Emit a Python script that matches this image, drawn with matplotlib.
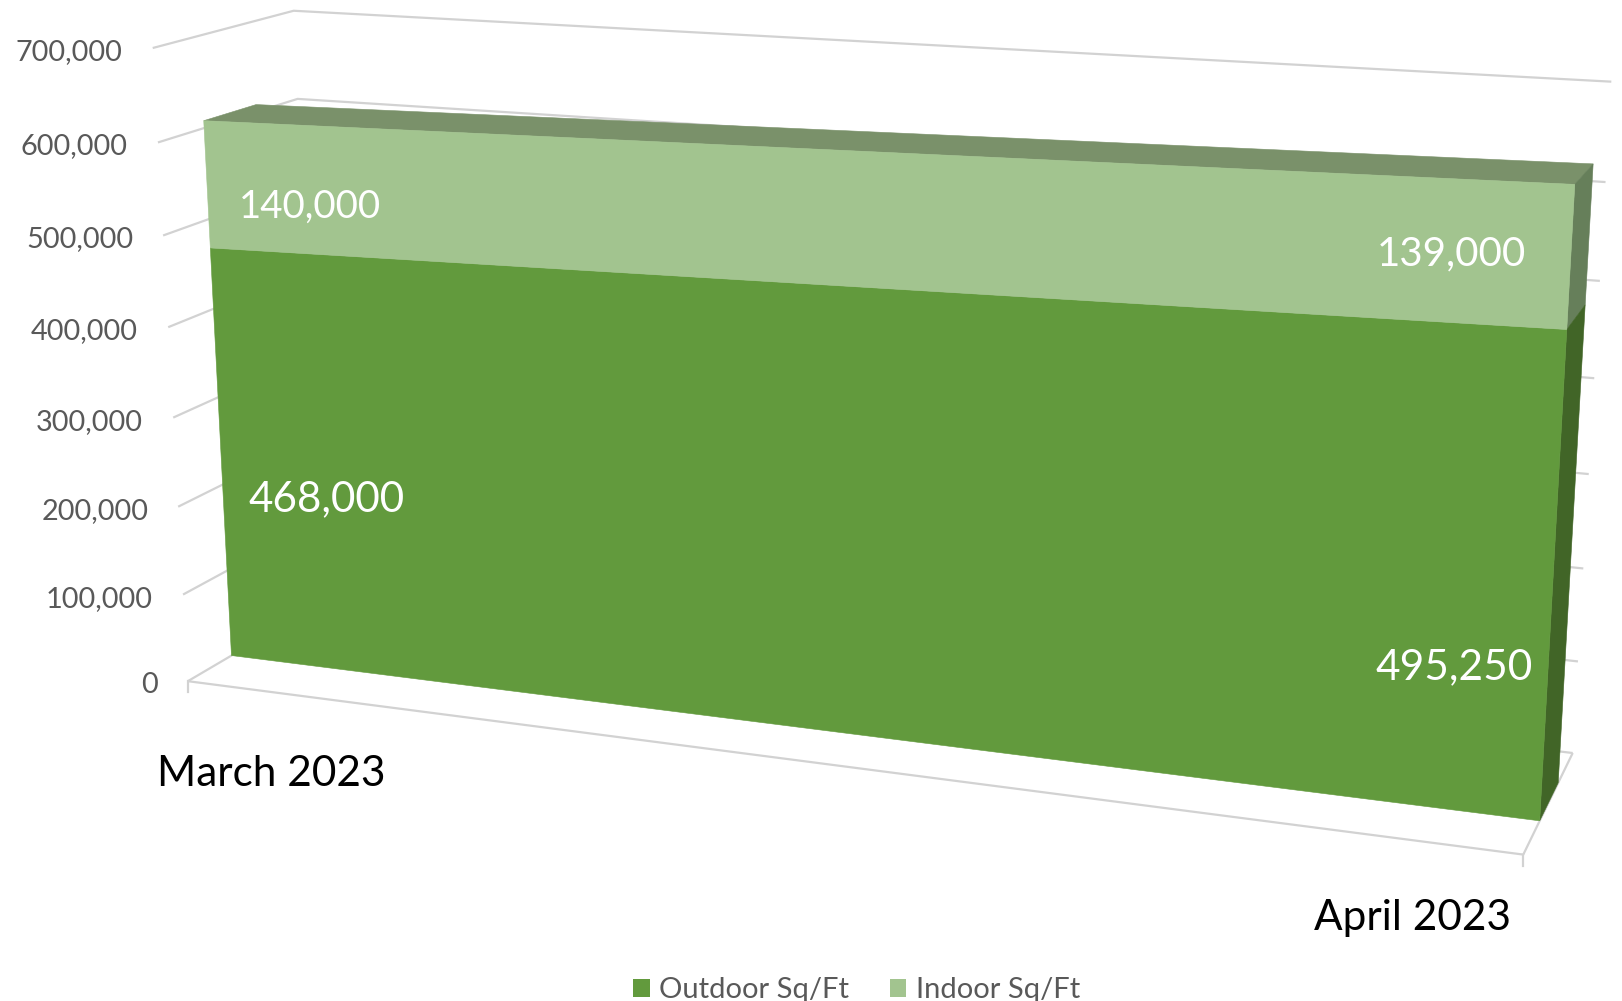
import numpy as np
import matplotlib
matplotlib.use("Agg")
import matplotlib.pyplot as plt
from matplotlib.patches import Polygon, Patch

categories = ["March 2023", "April 2023"]
outdoor = [468000, 495250]
indoor = [140000, 139000]
value_ticks = [0, 100000, 200000, 300000, 400000, 500000, 600000, 700000]
series_names = ["Outdoor Sq/Ft", "Indoor Sq/Ft"]

VMAX = 700000.0
FONT = "Lato"
C_OUT, C_IN, C_TOP, C_SIDE_IN, C_SIDE_OUT = "#629A3D", "#A2C48F", "#7A916A", "#667F5A", "#416527"
C_GRID, C_TICK, C_CAT = "#D2D2D2", "#595959", "#000000"
AREA_D0, AREA_D1 = 0.315, 0.69

# Camera calibration of the 3-D plot box: (category 0-1, value 0-1, depth 0-1) -> pixel
calib = [
    (0, 0, 0, 189, 681), (0, 1, 0, 153, 48), (0, 1, 1, 294, 11), (1, 1, 1, 1612, 82),
    (1, 0, 1, 1573, 753), (1, 0, 0, 1523, 855), (0, 6/7, 0, 158, 142), (0, 6/7, 1, 297, 99),
    (1, 6/7, 1, 1605, 182), (0, 4/7, 0, 168, 327), (1, 4/7, 1, 1594, 378),
    (0, 1/7, 0, 182, 595), (1, 1/7, 1, 1578, 661),
]
A, b = [], []
for u, v, d, x, y in calib:
    A.append([u, v, d, 1, 0, 0, 0, 0, -x*u, -x*v, -x*d]); b.append(x)
    A.append([0, 0, 0, 0, u, v, d, 1, -y*u, -y*v, -y*d]); b.append(y)
P = np.linalg.lstsq(np.array(A, float), np.array(b, float), rcond=None)[0]

def proj(u, value, d):
    v = value / VMAX
    w = P[8]*u + P[9]*v + P[10]*d + 1
    return ((P[0]*u + P[1]*v + P[2]*d + P[3]) / w, (P[4]*u + P[5]*v + P[6]*d + P[7]) / w)

plt.rcParams["font.family"] = [FONT, "DejaVu Sans"]
fig = plt.figure(figsize=(16.22, 10.01), dpi=100)
ax = fig.add_axes([0, 0, 1, 1])
ax.set_xlim(0, 1622); ax.set_ylim(1001, 0); ax.axis("off")

def line(pts, z=1):
    xs, ys = zip(*pts)
    ax.plot(xs, ys, color=C_GRID, lw=1.6, solid_capstyle="butt", zorder=z)

for t in value_ticks:
    line([proj(0, t, 0), proj(0, t, 1), proj(1, t, 1)])
    x, y = proj(0, t, 0)
    ax.annotate(f"{t:,}", (x, y), xytext=(-30, -4), textcoords="offset pixels",
                ha="right", va="center", fontsize=20.8, color=C_TICK)
line([proj(0, 0, 0), proj(1, 0, 0), proj(1, 0, 1)])
for u in (0, 1):
    x, y = proj(u, 0, 0)
    ax.plot([x, x], [y, y + 11], color=C_GRID, lw=1.6, zorder=1)

tot = [o + i for o, i in zip(outdoor, indoor)]
def poly(pts, c, z):
    ax.add_patch(Polygon(pts, closed=True, facecolor=c, edgecolor=c, lw=0.4, zorder=z))

poly([proj(0, tot[0], AREA_D0), proj(1, tot[1], AREA_D0), proj(1, tot[1], AREA_D1), proj(0, tot[0], AREA_D1)], C_TOP, 2)
poly([proj(1, outdoor[1], AREA_D0), proj(1, tot[1], AREA_D0), proj(1, tot[1], AREA_D1), proj(1, outdoor[1], AREA_D1)], C_SIDE_IN, 2)
poly([proj(1, 0, AREA_D0), proj(1, outdoor[1], AREA_D0), proj(1, outdoor[1], AREA_D1), proj(1, 0, AREA_D1)], C_SIDE_OUT, 2)
poly([proj(0, 0, AREA_D0), proj(1, 0, AREA_D0), proj(1, outdoor[1], AREA_D0), proj(0, outdoor[0], AREA_D0)], C_OUT, 3)
poly([proj(0, outdoor[0], AREA_D0), proj(1, outdoor[1], AREA_D0), proj(1, tot[1], AREA_D0), proj(0, tot[0], AREA_D0)], C_IN, 3)

# data labels, anchored to the projected front-face band centres
lab = [(0, outdoor[0]/2, outdoor[0], (27, -44), 30.3, "left"),
       (1, outdoor[1]/2, outdoor[1], (-20, -87), 30.5, "right"),
       (0, outdoor[0]+indoor[0]/2, indoor[0], (32, -22), 27.7, "left"),
       (1, outdoor[1]+indoor[1]/2, indoor[1], (-45, 3), 29, "right")]
for u, val, txt, off, fs, ha in lab:
    ax.annotate(f"{txt:,}", proj(u, val, AREA_D0), xytext=off, textcoords="offset pixels",
                ha=ha, va="center", color="white", fontsize=fs, zorder=5)

cat_off = [(-31, -93), (-12, -63)]
for i, c in enumerate(categories):
    ax.annotate(c, proj(i, 0, 0), xytext=cat_off[i], textcoords="offset pixels",
                ha="left" if i == 0 else "right", va="center", fontsize=30.4, color=C_CAT)

h = [Patch(facecolor=C_OUT, label=series_names[0]), Patch(facecolor=C_IN, label=series_names[1])]
leg = ax.legend(handles=h, loc="lower center", bbox_to_anchor=(0.528, -0.002), ncol=2, frameon=False,
                fontsize=21, labelcolor=C_TICK, handlelength=0.58, handleheight=0.58,
                handletextpad=0.32, columnspacing=1.39, borderaxespad=0, borderpad=0)
fig.savefig("out.png", dpi=100)
